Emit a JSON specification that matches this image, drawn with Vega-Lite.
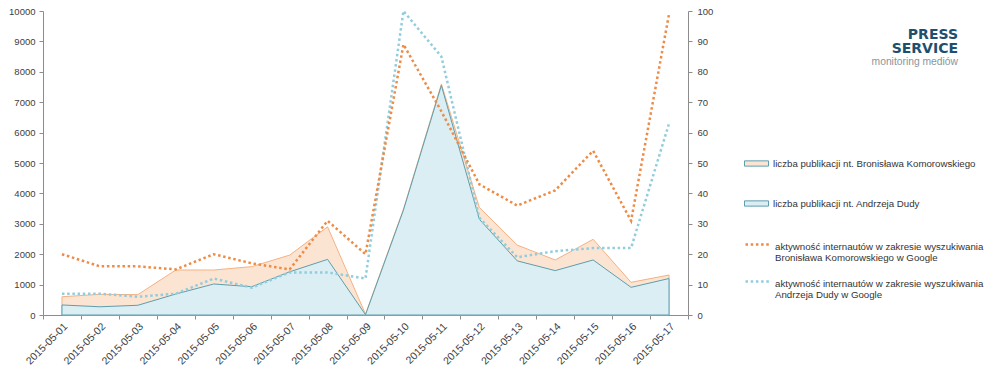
{
  "$schema": "https://vega.github.io/schema/vega-lite/v6.json",
  "width": 645,
  "height": 304,
  "autosize": {"type": "none"},
  "padding": {"left": 43, "top": 11, "right": 312, "bottom": 62},
  "background": "white",
  "config": {
    "view": {"stroke": null},
    "font": "Liberation Sans",
    "axis": {
      "domainColor": "#8C8C8C",
      "tickColor": "#8C8C8C",
      "tickSize": 4,
      "labelColor": "#404040",
      "labelFont": "Liberation Sans",
      "labelFontSize": 9.5,
      "grid": false,
      "title": null
    },
    "legend": {
      "labelFont": "Liberation Sans",
      "labelFontSize": 9.7,
      "labelColor": "#333333",
      "labelLimit": 0,
      "symbolSize": 576,
      "labelOffset": 4,
      "symbolOpacity": 1
    }
  },
  "title": {
    "text": ["PRESS", "SERVICE"],
    "subtitle": "monitoring mediów",
    "orient": "top",
    "anchor": "end",
    "frame": "group",
    "dx": 270,
    "offset": -61,
    "font": "DejaVu Sans",
    "fontSize": 14,
    "fontWeight": "bold",
    "color": "#1D4F6E",
    "lineHeight": 14,
    "subtitleFont": "Liberation Sans",
    "subtitleFontSize": 10.3,
    "subtitleColor": "#8A949E",
    "subtitlePadding": 1
  },
  "data": {
    "values": [
      {"date": "2015-05-01", "pubK": 600, "pubD": 330, "searchK": 20, "searchD": 7},
      {"date": "2015-05-02", "pubK": 680, "pubD": 270, "searchK": 16, "searchD": 7},
      {"date": "2015-05-03", "pubK": 670, "pubD": 320, "searchK": 16, "searchD": 6},
      {"date": "2015-05-04", "pubK": 1480, "pubD": 690, "searchK": 15, "searchD": 7},
      {"date": "2015-05-05", "pubK": 1480, "pubD": 1020, "searchK": 20, "searchD": 12},
      {"date": "2015-05-06", "pubK": 1590, "pubD": 930, "searchK": 17, "searchD": 9},
      {"date": "2015-05-07", "pubK": 1970, "pubD": 1420, "searchK": 15, "searchD": 14},
      {"date": "2015-05-08", "pubK": 2900, "pubD": 1830, "searchK": 31, "searchD": 14},
      {"date": "2015-05-09", "pubK": 30, "pubD": 10, "searchK": 20, "searchD": 12},
      {"date": "2015-05-10", "pubK": 3480, "pubD": 3450, "searchK": 89, "searchD": 100},
      {"date": "2015-05-11", "pubK": 7600, "pubD": 7550, "searchK": 67, "searchD": 85},
      {"date": "2015-05-12", "pubK": 3540, "pubD": 3150, "searchK": 43, "searchD": 32},
      {"date": "2015-05-13", "pubK": 2300, "pubD": 1780, "searchK": 36, "searchD": 19},
      {"date": "2015-05-14", "pubK": 1810, "pubD": 1460, "searchK": 41, "searchD": 21},
      {"date": "2015-05-15", "pubK": 2490, "pubD": 1810, "searchK": 54, "searchD": 22},
      {"date": "2015-05-16", "pubK": 1075, "pubD": 910, "searchK": 31, "searchD": 22},
      {"date": "2015-05-17", "pubK": 1315, "pubD": 1200, "searchK": 99, "searchD": 63}
    ]
  },
  "encoding": {
    "x": {
      "field": "date",
      "type": "ordinal",
      "bandPosition": 0.5,
      "scale": {"type": "band", "paddingInner": 0, "paddingOuter": 0},
      "axis": {"labelAngle": -45, "labelFontSize": 10.5, "tickBand": "extent", "labelPadding": 2}
    }
  },
  "layer": [
    {
      "encoding": {
        "y": {
          "field": "pubK",
          "type": "quantitative",
          "scale": {"domain": [0, 10000], "nice": false},
          "axis": {"orient": "left", "format": "d", "values": [0, 1000, 2000, 3000, 4000, 5000, 6000, 7000, 8000, 9000, 10000], "labelPadding": 4}
        }
      },
      "layer": [
        {
          "mark": {"type": "area", "opacity": 1, "stroke": "#F4B183", "strokeWidth": 1},
          "encoding": {
            "y": {"field": "pubK", "type": "quantitative"},
            "fill": {
              "datum": "liczba publikacji nt. Bronisława Komorowskiego",
              "type": "nominal",
              "scale": {
                "domain": ["liczba publikacji nt. Bronisława Komorowskiego", "liczba publikacji nt. Andrzeja Dudy"],
                "range": ["#FCE4D2", "#DAEEF3"]
              },
              "legend": {
                "orient": "none",
                "legendX": 701,
                "legendY": 140,
                "title": null,
                "rowPadding": 22,
                "symbolType": "M-1,-0.22H1V0.22H-1Z",
                "symbolStrokeWidth": 1,
                "symbolStrokeColor": "#E9A57A"
              }
            }
          }
        },
        {
          "mark": {"type": "area", "opacity": 1, "stroke": "#5E9EAD", "strokeWidth": 1},
          "encoding": {
            "y": {"field": "pubD", "type": "quantitative"},
            "fill": {"datum": "liczba publikacji nt. Andrzeja Dudy", "type": "nominal"}
          }
        }
      ]
    },
    {
      "encoding": {
        "y": {
          "field": "searchK",
          "type": "quantitative",
          "scale": {"domain": [0, 100], "nice": false},
          "axis": {"orient": "right", "values": [0, 10, 20, 30, 40, 50, 60, 70, 80, 90, 100], "labelPadding": 5}
        }
      },
      "layer": [
        {
          "mark": {"type": "line", "strokeWidth": 2.5, "strokeDash": [2.5, 2.7]},
          "encoding": {
            "y": {"field": "searchD", "type": "quantitative"},
            "stroke": {
              "datum": "aktywność internautów w zakresie wyszukiwania|Andrzeja Dudy w Google",
              "type": "nominal",
              "scale": {
                "domain": [
                  "aktywność internautów w zakresie wyszukiwania|Bronisława Komorowskiego w Google",
                  "aktywność internautów w zakresie wyszukiwania|Andrzeja Dudy w Google"
                ],
                "range": ["#EE8B45", "#92CDDC"]
              },
              "legend": {
                "orient": "none",
                "legendX": 701,
                "legendY": 222,
                "title": null,
                "rowPadding": 7,
                "symbolType": "M-1,-0.17H1",
                "symbolStrokeWidth": 2.5,
                "symbolDash": [2.5, 2.7],
                "labelExpr": "split(datum.label, '|')"
              }
            }
          }
        },
        {
          "mark": {"type": "line", "strokeWidth": 2.5, "strokeDash": [2.5, 2.7]},
          "encoding": {
            "y": {"field": "searchK", "type": "quantitative"},
            "stroke": {"datum": "aktywność internautów w zakresie wyszukiwania|Bronisława Komorowskiego w Google", "type": "nominal"}
          }
        }
      ]
    }
  ],
  "resolve": {"scale": {"y": "independent"}}
}
